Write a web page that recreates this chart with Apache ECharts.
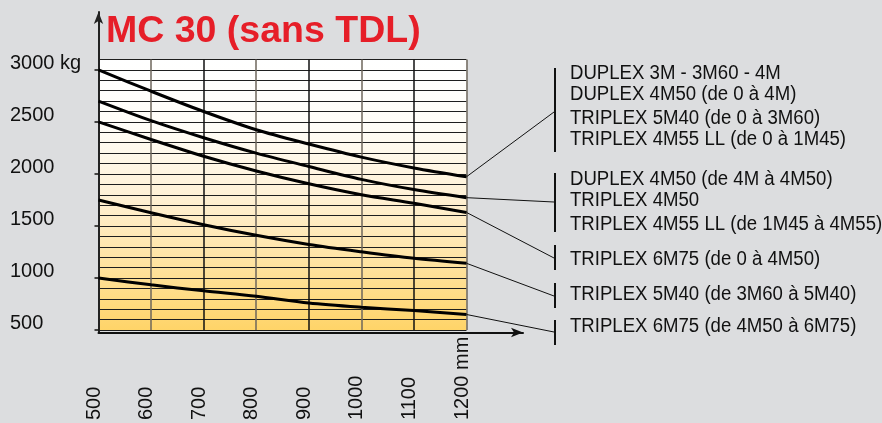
<!DOCTYPE html>
<html><head><meta charset="utf-8">
<script src="https://cdn.jsdelivr.net/npm/echarts@6/dist/echarts.min.js"></script>
<style>html,body{margin:0;padding:0;background:#dcdddf;} #c{width:882px;height:423px;}</style>
</head><body><div id="c"></div>
<script>
// ---- data ----
const titleText = 'MC 30 (sans TDL)';
const xValues = [500, 600, 700, 800, 900, 1000, 1100, 1200];
const curve1 = [3000, 2795, 2600, 2425, 2288, 2162, 2058, 1973];
const curve2 = [2700, 2512, 2348, 2200, 2072, 1948, 1850, 1772];
const curve3 = [2500, 2331, 2170, 2028, 1905, 1800, 1718, 1630];
const curve4 = [1750, 1627, 1512, 1410, 1322, 1252, 1189, 1141];
const curve5 = [1000, 934, 877, 824, 760, 719, 687, 649];
const yTickValues = [500, 1000, 1500, 2000, 2500, 3000];
const xTickValues = [500, 600, 700, 800, 900, 1000, 1100, 1200];
const groupLabels = [
  ['DUPLEX 3M - 3M60 - 4M', 'DUPLEX 4M50 (de 0 à 4M)', 'TRIPLEX 5M40 (de 0 à 3M60)', 'TRIPLEX 4M55 LL (de 0 à 1M45)'],
  ['DUPLEX 4M50 (de 4M à 4M50)', 'TRIPLEX 4M50', 'TRIPLEX 4M55 LL (de 1M45 à 4M55)'],
  ['TRIPLEX 6M75 (de 0 à 4M50)'],
  ['TRIPLEX 5M40 (de 3M60 à 5M40)'],
  ['TRIPLEX 6M75 (de 4M50 à 6M75)']
];

// ---- layout (annotation positions) ----
const textY = [[72.8, 93.7, 117.5, 138.2], [178.8, 199.2, 223.2], [258.7], [293.5], [325.8]];
const bracketY = [[68, 152], [173, 232], [245, 270], [283, 308], [320, 345]];
const leaderEndY = [112, 202, 258, 296, 332];
const bracketX = 555, textX = 570;

const curves = [curve1, curve2, curve3, curve4, curve5];
const FONT = '"Liberation Sans", Arial, sans-serif';

const chart = echarts.init(document.getElementById('c'), null, {renderer: 'canvas'});

const series = curves.map(c => ({
  type: 'line', xAxisIndex: 0, yAxisIndex: 0,
  data: xValues.map((x, i) => [x, c[i]]),
  showSymbol: false, symbol: 'none', smooth: 0.3,
  lineStyle: {color: '#000', width: 3},
  z: 5, silent: true, animation: false
}));

const option = {
  animation: false,
  backgroundColor: '#dcdddf',
  title: {
    text: titleText, left: 106, top: 12.5, padding: 0,
    textStyle: {color: '#e61e28', fontSize: 37.5, fontWeight: 'bold', fontFamily: FONT, lineHeight: 38}
  },
  grid: [
    {left: 98.5, top: 59.5, width: 368, height: 273, show: true, borderWidth: 0,
     backgroundColor: new echarts.graphic.LinearGradient(0, 0, 0, 1, [
       {offset: 0, color: '#ffffff'},
       {offset: 0.25, color: '#fffdf7'},
       {offset: 0.5, color: '#fff1d6'},
       {offset: 0.75, color: '#ffe3a2'},
       {offset: 1, color: '#ffd468'}
     ])},
    {left: 98.5, top: 12, width: 424.5, height: 320.5}
  ],
  xAxis: [
    {gridIndex: 0, type: 'value', min: 500, max: 1200, interval: 100,
     axisLine: {show: false}, axisTick: {show: false},
     splitLine: {show: true, lineStyle: {color: ['#111111', '#6e665b'], width: 1.5}},
     axisLabel: {show: true, rotate: 90, align: 'left', verticalAlign: 'bottom', lineHeight: 9, margin: 90,
       color: '#111', fontSize: 20, fontFamily: FONT,
       formatter: v => v === 1200 ? '1200 mm' : String(v)}},
    {gridIndex: 1, type: 'value', min: 0, max: 1,
     axisLine: {show: true, onZero: false, symbol: ['none', 'arrow'], symbolSize: [7, 12],
       lineStyle: {color: '#111', width: 2}},
     axisTick: {show: false}, axisLabel: {show: false}, splitLine: {show: false}}
  ],
  yAxis: [
    // fine grid (every 100 kg)
    {gridIndex: 0, type: 'value', position: 'left', min: 500, max: 3100, interval: 100,
     axisLine: {show: false}, axisTick: {show: false}, axisLabel: {show: false},
     splitLine: {show: true, lineStyle: {color: '#1e1e1e', width: 1.2}}},
    // arrowed axis line
    {gridIndex: 1, type: 'value', position: 'left', min: 0, max: 1,
     axisLine: {show: true, onZero: false, symbol: ['none', 'arrow'], symbolSize: [7, 12],
       lineStyle: {color: '#222', width: 2}},
     axisTick: {show: false}, axisLabel: {show: false}, splitLine: {show: false}},
    // labels and ticks every 500 kg
    {gridIndex: 0, type: 'value', position: 'left', offset: 0, min: 500, max: 3100,
     axisLine: {show: false}, splitLine: {show: false},
     axisTick: {show: true, length: 4, customValues: yTickValues, lineStyle: {color: '#111', width: 1.5}},
     axisLabel: {show: true, align: 'left', verticalAlign: 'bottom', lineHeight: 13, margin: 88.5,
       color: '#111', fontSize: 20, fontFamily: FONT, customValues: yTickValues,
       formatter: v => v === 3000 ? '3000 kg' : String(v)}}
  ],
  series: series
};
chart.setOption(option);

// annotations: leader lines, brackets, labels
const elements = [];
curves.forEach((c, i) => {
  const p = chart.convertToPixel({xAxisIndex: 0, yAxisIndex: 0}, [xValues[xValues.length - 1], c[c.length - 1]]);
  elements.push({type: 'line', silent: true, z: 10,
    shape: {x1: p[0], y1: p[1], x2: bracketX - 1, y2: leaderEndY[i]},
    style: {stroke: '#111', lineWidth: 1}});
  elements.push({type: 'line', silent: true, z: 10,
    shape: {x1: bracketX, y1: bracketY[i][0], x2: bracketX, y2: bracketY[i][1]},
    style: {stroke: '#111', lineWidth: 2}});
  groupLabels[i].forEach((t, j) => {
    elements.push({type: 'text', silent: true, z: 10, x: textX, y: textY[i][j] + 1, scaleX: 0.93,
      style: {text: t, fill: '#111', font: '20px ' + FONT, verticalAlign: 'middle', align: 'left'}});
  });
});
chart.setOption({graphic: {elements: elements}});
</script>
</body></html>
